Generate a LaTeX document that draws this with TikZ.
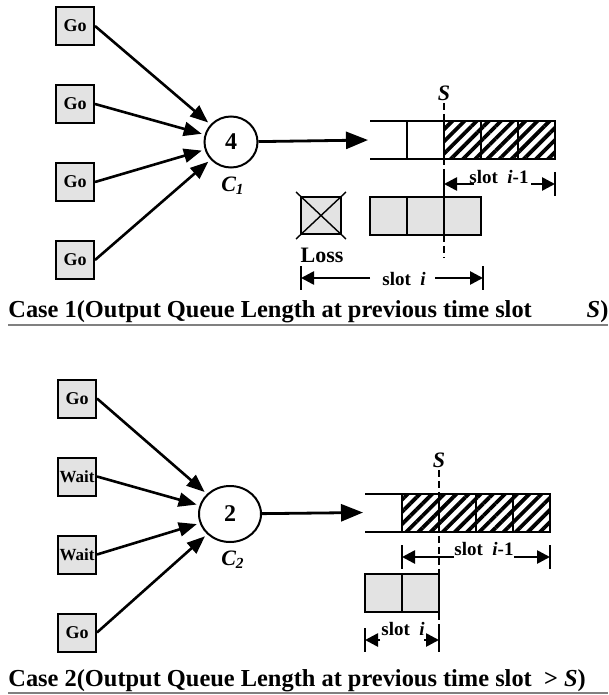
\documentclass[tikz,border=0pt]{standalone}
\usepackage{fontspec}
\setmainfont{Liberation Serif}
\usetikzlibrary{arrows.meta, positioning, shapes.geometric, patterns.meta}

\begin{document}
\begin{tikzpicture}[
x=0.5pt, y=-0.5pt,
node distance = 19pt and 0pt,
gobox/.style = {draw, line width=1pt, fill=gray!22, inner sep=0pt,
                minimum size=19pt, font=\bfseries\fontsize{9}{10}\selectfont},
sched/.style = {draw, ellipse, line width=1pt, inner sep=0pt,
                font=\bfseries\fontsize{12}{14}\selectfont},
cell/.style = {draw, line width=1pt, inner sep=0pt, outer sep=0pt,
               minimum width=18.5pt, minimum height=19pt},
opencell/.style = {cell, draw=none},
busy/.style = {cell, pattern={Lines[angle=45, distance=4.3pt, line width=1.9pt]}},
waiting/.style = {cell, fill=gray!22},
feed/.style = {line width=1.3pt, -{Triangle[length=9pt, width=7pt]}, shorten >=1.5pt},
sendline/.style = {line width=1.4pt, -{Triangle[length=11pt, width=8.5pt]}, shorten >=1pt},
sline/.style = {line width=1.3pt, dash pattern=on 3.5pt off 2pt},
dimline/.style = {line width=1.3pt, -{Triangle[length=6.5pt, width=6.5pt]}},
bar/.style = {line width=1.3pt},
slabel/.style = {inner sep=1pt, font=\bfseries\itshape\fontsize{11}{12}\selectfont},
dimlabel/.style = {inner sep=1pt, font=\bfseries\fontsize{9.5}{10}\selectfont},
caption/.style = {anchor=base west, inner sep=0pt, font=\bfseries\fontsize{12.2}{14}\selectfont},
rule/.style = {gray, line width=0.6pt},
                        ]
\useasboundingbox (0,0) rectangle (609,695);
% case 1
\node (g1) [gobox] at (75,26) {Go};
\node (g2) [gobox, below=of g1] {Go};
\node (g3) [gobox, below=of g2] {Go};
\node (g4) [gobox, below=of g3] {Go};
\node (c1) [sched, minimum width=26.5pt, minimum height=25.5pt] at (231,142) {4};
\node (n1) [slabel] at (233,186) {C\textsubscript{1}};
\draw[feed] (g1.east) -- (c1);
\draw[feed] (g2.east) -- (c1);
\draw[feed] (g3.east) -- (c1);
\draw[feed] (g4.east) -- (c1);

\node (q0) [opencell] at (388.5,140) {};
\node (q1) [cell, right=of q0] {};
\node (q2) [busy, right=of q1] {};
\node (q3) [busy, right=of q2] {};
\node (q4) [busy, right=of q3] {};
\draw[line width=1pt] (q0.north west) -- (q0.north east) (q0.south west) -- (q0.south east);
\draw[sendline] (c1) -- (q0.west);

\node (loss) [waiting, minimum width=20pt, minimum height=18.5pt] at (321,215.5) {};
\draw[line width=0.7pt] ([shift={(-5,-5)}]loss.north west) -- ([shift={(5,5)}]loss.south east)
      ([shift={(5,-5)}]loss.north east) -- ([shift={(-5,5)}]loss.south west);
\node (losstxt) [inner sep=0pt, font=\bfseries\fontsize{11}{12}\selectfont] at (322,255) {Loss};
\node (l1) [waiting] at (388.5,216) {};
\node (l2) [waiting, right=of l1] {};
\node (l3) [waiting, right=of l2] {};

\node (s1) [slabel] at (444,93) {S};
\coordinate (e1) at (444,257);
\draw[sline] (s1.south) -- (e1);

\coordinate (b1) at (444,184);
\coordinate (b2) at (555,184);
\coordinate (a1) at (474,184);
\coordinate (a2) at (531,184);
\node (t1) [dimlabel] at (499,177) {slot~ \textit{i}-1};
\draw[dimline] (a1) -- (b1);
\draw[dimline] (a2) -- (b2);
\draw[bar] (b1) ++(0,-12) -- ++(0,24);
\draw[bar] (b2) ++(0,-12) -- ++(0,24);

\coordinate (b3) at (301,278);
\coordinate (b4) at (483,278);
\coordinate (a3) at (370,278);
\coordinate (a4) at (435,278);
\node (t2) [dimlabel] at (404,279) {slot~ \textit{i}};
\draw[dimline] (a3) -- (b3);
\draw[dimline] (a4) -- (b4);
\draw[bar] (b3) ++(0,-12) -- ++(0,24);
\draw[bar] (b4) ++(0,-12) -- ++(0,24);

\node (cap1) [caption] at (8,317)
  {\makebox[300pt][s]{Case 1(Output Queue Length at previous time slot\hfill\textit{S})}};
\draw[rule] (8,325) -- (608,325);

% case 2
\node (h1) [gobox] at (77,398.5) {Go};
\node (h2) [gobox, below=of h1, font=\bfseries\fontsize{8.5}{10}\selectfont] {Wait};
\node (h3) [gobox, below=of h2, font=\bfseries\fontsize{8.5}{10}\selectfont] {Wait};
\node (h4) [gobox, below=of h3] {Go};
\node (c2) [sched, minimum width=31pt, minimum height=28pt] at (230,514) {2};
\node (n2) [slabel] at (233,560) {C\textsubscript{2}};
\draw[feed] (h1.east) -- (c2);
\draw[feed] (h2.east) -- (c2);
\draw[feed] (h3.east) -- (c2);
\draw[feed] (h4.east) -- (c2);

\node (r0) [opencell] at (383.5,512.5) {};
\node (r1) [busy, right=of r0] {};
\node (r2) [busy, right=of r1] {};
\node (r3) [busy, right=of r2] {};
\node (r4) [busy, right=of r3] {};
\draw[line width=1pt] (r0.north west) -- (r0.north east) (r0.south west) -- (r0.south east);
\draw[sendline] (c2) -- (r0.west);

\node (m1) [waiting] at (383.5,592.5) {};
\node (m2) [waiting, right=of m1] {};

\node (s2) [slabel] at (439,460) {S};
\coordinate (e2) at (439,652);
\draw[sline] (s2.south) -- (e2);

\coordinate (b5) at (402,557);
\coordinate (b6) at (550,557);
\coordinate (a5) at (454,557);
\coordinate (a6) at (514,557);
\node (t3) [dimlabel] at (484,549) {slot~ \textit{i}-1};
\draw[dimline] (a5) -- (b5);
\draw[dimline] (a6) -- (b6);
\draw[bar] (b5) ++(0,-12) -- ++(0,24);
\draw[bar] (b6) ++(0,-12) -- ++(0,24);

\coordinate (b7) at (365,640);
\coordinate (b8) at (439,640);
\coordinate (a7) at (380,640);
\coordinate (a8) at (424,640);
\node (t4) [dimlabel] at (403,629) {slot~ \textit{i}};
\draw[dimline] (a7) -- (b7);
\draw[dimline] (a8) -- (b8);
\draw[bar] (b7) ++(0,-12) -- ++(0,24);
\draw[bar] (b8) ++(0,-12) -- ++(0,24);

\node (cap2) [caption] at (8,686)
  {Case 2(Output Queue Length at previous time slot~ > \textit{S})};
\draw[rule] (8,693) -- (608,693);
\end{tikzpicture}
\end{document}
